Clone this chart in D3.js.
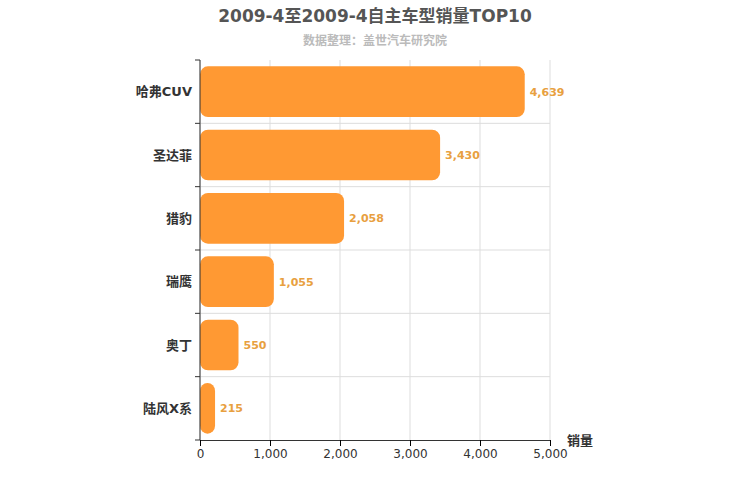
<!DOCTYPE html>
<html><head><meta charset="utf-8">
<script src="https://cdn.jsdelivr.net/npm/d3@7/dist/d3.min.js"></script>
<style>body{margin:0;background:#fff}text{font-family:"DejaVu Sans","Noto Sans CJK SC",sans-serif}</style>
</head><body><svg id="c" width="750" height="500"></svg>
<script>
const categories=["哈弗CUV","圣达菲","猎豹","瑞鹰","奥丁","陆风X系"];
const values=[4639,3430,2058,1055,550,215];
const ticks=[0,1000,2000,3000,4000,5000];
const svg=d3.select("#c");
const m={l:200,r:550,t:60,b:440};
const x=d3.scaleLinear().domain([0,5000]).range([m.l,m.r]);
const y=d3.scaleBand().domain(categories).range([m.t,m.b]).paddingInner(0.2).paddingOuter(0.1);
svg.append("text").attr("x",375).attr("y",22).attr("text-anchor","middle").attr("font-size",17).attr("font-weight","bold").attr("fill","#555").text("2009-4至2009-4自主车型销量TOP10");
svg.append("text").attr("x",375).attr("y",45).attr("text-anchor","middle").attr("font-size",12).attr("font-weight","bold").attr("fill","#bbb").text("数据整理：盖世汽车研究院");
const g=svg.append("g");
ticks.forEach(t=>g.append("line").attr("x1",x(t)).attr("x2",x(t)).attr("y1",m.t).attr("y2",m.b).attr("stroke","#ddd"));
const step=y.step();
for(let i=1;i<categories.length;i++){const yy=m.t+step*0.1*0+ (m.b-m.t)/categories.length*i;g.append("line").attr("x1",m.l).attr("x2",m.r).attr("y1",yy).attr("y2",yy).attr("stroke","#ddd");}
g.selectAll("rect").data(values).join("rect").attr("x",x(0)).attr("y",(d,i)=>y(categories[i])).attr("width",d=>x(d)-x(0)).attr("height",y.bandwidth()).attr("rx",8).attr("fill","#ff9933");
g.selectAll(".v").data(values).join("text").attr("x",d=>x(d)+5).attr("y",(d,i)=>y(categories[i])+y.bandwidth()/2+4).attr("font-size",11).attr("font-weight","bold").attr("fill","#e8a040").text(d=>d3.format(",")(d));
const ya=svg.append("g").attr("transform",`translate(${m.l},0)`).call(d3.axisLeft(d3.scalePoint().domain(categories).range([m.t+(m.b-m.t)/12,m.b-(m.b-m.t)/12])).tickSize(0).tickPadding(8));
ya.select(".domain").remove();
ya.selectAll("text").attr("font-size",13).attr("font-weight","bold").attr("fill","#333");
const ax=svg.append("line").attr("x1",m.l).attr("x2",m.l).attr("y1",m.t).attr("y2",m.b).attr("stroke","#333");
for(let i=0;i<=categories.length;i++){const yy=m.t+(m.b-m.t)/categories.length*i;svg.append("line").attr("x1",m.l-5).attr("x2",m.l).attr("y1",yy).attr("y2",yy).attr("stroke","#333");}
const xa=svg.append("g").attr("transform",`translate(0,${m.b})`).call(d3.axisBottom(x).tickValues(ticks).tickFormat(d3.format(",")).tickSizeOuter(0));
xa.selectAll("text").attr("font-size",12).attr("fill","#333");
xa.select(".domain").attr("stroke","#333");
svg.append("text").attr("x",580).attr("y",445).attr("text-anchor","middle").attr("font-size",13).attr("font-weight","bold").attr("fill","#333").text("销量");
</script></body></html>
